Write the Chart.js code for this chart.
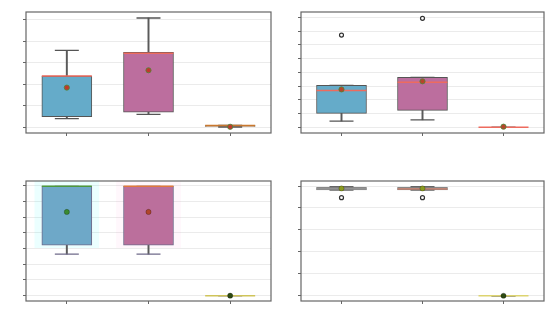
<!DOCTYPE html>
<html>
<head>
<meta charset="utf-8">
<script src="https://cdn.jsdelivr.net/npm/chart.js@4"></script>
<style>
  body { margin: 0; background: #fff; }
  #wrap { position: relative; width: 550px; height: 325px; }
  canvas { position: absolute; }
</style>
</head>
<body>
<div id="wrap">
  <canvas id="c1" width="275" height="160" style="left:0;top:0"></canvas>
  <canvas id="c2" width="275" height="160" style="left:275px;top:0"></canvas>
  <canvas id="c3" width="275" height="160" style="left:0;top:165px"></canvas>
  <canvas id="c4" width="275" height="160" style="left:275px;top:165px"></canvas>
</div>
<script>
const categories = ['A', 'B', 'C'];

// painel 1 (cima, esquerda)
const p1Low = [0.39, 0.59, 0.0];
const p1Q1 = [0.48, 0.69, 0.0];
const p1Median = [2.38, 3.44, 0.07];
const p1Q3 = [2.38, 3.49, 0.07];
const p1High = [3.58, 5.09, 0.07];
const p1Mean = [1.84, 2.65, 0.01];
const p1Outliers = [null, null, null];
const p1Ticks = [0, 1, 2, 3, 4, 5];

// painel 2 (cima, direita)
const p2Low = [0.46, 0.55, 0.0];
const p2Q1 = [1.02, 1.24, 0.0];
const p2Median = [2.69, 3.29, 0.0];
const p2Q3 = [3.05, 3.64, 0.0];
const p2High = [3.05, 3.64, 0.0];
const p2Mean = [2.76, 3.35, 0.05];
const p2Outliers = [6.71, 7.93, null];
const p2Ticks = [0, 1, 2, 3, 4, 5, 6, 7, 8];

// painel 3 (baixo, esquerda)
const p3Low = [2.64, 2.64, 0.0];
const p3Q1 = [3.21, 3.21, 0.0];
const p3Median = [6.96, 6.96, 0.0];
const p3Q3 = [6.96, 6.96, 0.0];
const p3High = [6.96, 6.96, 0.0];
const p3Mean = [5.33, 5.33, 0.0];
const p3Outliers = [null, null, null];
const p3Ticks = [0, 1, 2, 3, 4, 5, 6, 7];

// painel 4 (baixo, direita)
const p4Low = [4.82, 4.82, 0.0];
const p4Q1 = [4.82, 4.82, 0.0];
const p4Median = [4.87, 4.87, 0.0];
const p4Q3 = [4.94, 4.94, 0.0];
const p4High = [4.97, 4.97, 0.0];
const p4Mean = [4.89, 4.89, 0.0];
const p4Outliers = [4.47, 4.47, null];
const p4Ticks = [0, 1, 2, 3, 4, 5];

// moldura em volta da área do gráfico
const moldura = {
  id: 'moldura',
  afterDatasetsDraw(chart) {
    const { ctx, chartArea: a } = chart;
    ctx.save();
    ctx.strokeStyle = '#666';
    ctx.lineWidth = 1.2;
    ctx.strokeRect(a.left, a.top, a.right - a.left, a.bottom - a.top);
    ctx.restore();
  }
};

function montarPainel(id, d, estilo) {
  const datasets = [];
  if (estilo.brilho) {
    datasets.push({
      type: 'bar', order: 10, grouped: false,
      data: d.q1.map((v, i) => [v - 0.15, d.q3[i] + 0.4]),
      backgroundColor: estilo.brilho, barThickness: 64
    });
  }
  // haste dos bigodes
  datasets.push({
    type: 'bar', order: 9, grouped: false,
    data: d.low.map((v, i) => [v, d.high[i]]),
    backgroundColor: '#5a5a5a', barThickness: 1.3
  });
  // caixa
  datasets.push({
    type: 'bar', order: 8, grouped: false,
    data: d.q1.map((v, i) => [v, d.q3[i]]),
    backgroundColor: estilo.caixa, borderColor: estilo.borda,
    borderWidth: 1, borderSkipped: false, barThickness: 50
  });
  // tampas dos bigodes
  [d.low, d.high].forEach(serie => {
    datasets.push({
      type: 'line', order: 7, showLine: false, data: serie,
      pointStyle: 'line', pointRadius: 12, pointBorderWidth: 1.3,
      pointBorderColor: estilo.tampa || estilo.borda
    });
  });
  // mediana
  datasets.push({
    type: 'line', order: 6, showLine: false, data: d.median,
    pointStyle: 'line', pointRadius: 25, pointBorderWidth: 1.5,
    pointBorderColor: estilo.mediana
  });
  // média
  datasets.push({
    type: 'line', order: 5, showLine: false, data: d.mean,
    pointStyle: 'circle', pointRadius: 2.6, pointBorderWidth: 0.8,
    pointBackgroundColor: estilo.media, pointBorderColor: estilo.mediaBorda
  });
  // outliers
  datasets.push({
    type: 'line', order: 4, showLine: false, data: d.outliers,
    pointStyle: 'circle', pointRadius: 2, pointBorderWidth: 1.2,
    pointBackgroundColor: '#fff', pointBorderColor: '#333'
  });

  const ca = estilo.area;
  new Chart(document.getElementById(id), {
    type: 'bar',
    data: { labels: categories, datasets: datasets },
    options: {
      responsive: false,
      animation: false,
      devicePixelRatio: 1,
      layout: {
        autoPadding: false,
        padding: { left: ca.left - 3, right: 275 - ca.right, top: ca.top, bottom: 160 - ca.bottom - 3 }
      },
      plugins: { legend: { display: false }, tooltip: { enabled: false } },
      scales: {
        x: {
          offset: true,
          ticks: { display: false },
          border: { display: false },
          grid: { offset: false, drawOnChartArea: false, tickLength: 3, tickColor: '#666', tickWidth: 1 },
          afterFit: s => { s.height = 3; }
        },
        y: {
          min: d.min, max: d.max,
          ticks: { display: false },
          border: { display: false },
          grid: { color: '#ebebeb', lineWidth: 1, tickLength: 3, tickColor: '#666', tickWidth: 1 },
          afterBuildTicks: s => { s.ticks = d.ticks.map(v => ({ value: v })); },
          afterFit: s => { s.width = 3; }
        }
      }
    },
    plugins: [moldura]
  });
}

montarPainel('c1',
  { low: p1Low, q1: p1Q1, median: p1Median, q3: p1Q3, high: p1High, mean: p1Mean, outliers: p1Outliers, ticks: p1Ticks, min: -0.28, max: 5.37 },
  { area: { left: 26, right: 271, top: 12, bottom: 133 },
    caixa: ['#65abc9', '#bc6e9e', '#f3a55a'], borda: '#555',
    mediana: ['#ee6b5e', '#ee6b5e', '#c9782e'], media: '#c0392b', mediaBorda: '#4a8a3a' });

montarPainel('c2',
  { low: p2Low, q1: p2Q1, median: p2Median, q3: p2Q3, high: p2High, mean: p2Mean, outliers: p2Outliers, ticks: p2Ticks, min: -0.41, max: 8.39 },
  { area: { left: 26, right: 269, top: 12, bottom: 133 },
    caixa: ['#65abc9', '#bc6e9e', '#f3a55a'], borda: '#555',
    mediana: ['#ee6b5e', '#ee6b5e', '#ee6b5e'], media: '#b5452b', mediaBorda: '#4a8a3a' });

montarPainel('c3',
  { low: p3Low, q1: p3Q1, median: p3Median, q3: p3Q3, high: p3High, mean: p3Mean, outliers: p3Outliers, ticks: p3Ticks, min: -0.34, max: 7.30 },
  { area: { left: 26, right: 271, top: 16, bottom: 136 },
    caixa: ['#6ea8c8', '#bb6f9c', '#d8cc60'], borda: '#6f6a8a',
    brilho: ['rgba(0,255,255,0.08)', 'rgba(255,120,200,0.06)', 'rgba(0,0,0,0)'],
    mediana: ['#4c9a3c', '#e0783c', '#cfc45a'], media: ['#3a8a30', '#b0452c', '#2d4a12'], mediaBorda: 'rgba(0,0,0,0.3)' });

montarPainel('c4',
  { low: p4Low, q1: p4Q1, median: p4Median, q3: p4Q3, high: p4High, mean: p4Mean, outliers: p4Outliers, ticks: p4Ticks, min: -0.24, max: 5.23 },
  { area: { left: 26, right: 269, top: 16, bottom: 136 },
    caixa: ['#a8a8a8', '#cf9f92', '#ddd470'], borda: '#888', tampa: '#666',
    mediana: ['#8c8c8c', '#b87c6c', '#ddd470'], media: ['#8a9a20', '#8a9a20', '#2d4a12'], mediaBorda: 'rgba(0,0,0,0.3)' });
</script>
</body>
</html>
